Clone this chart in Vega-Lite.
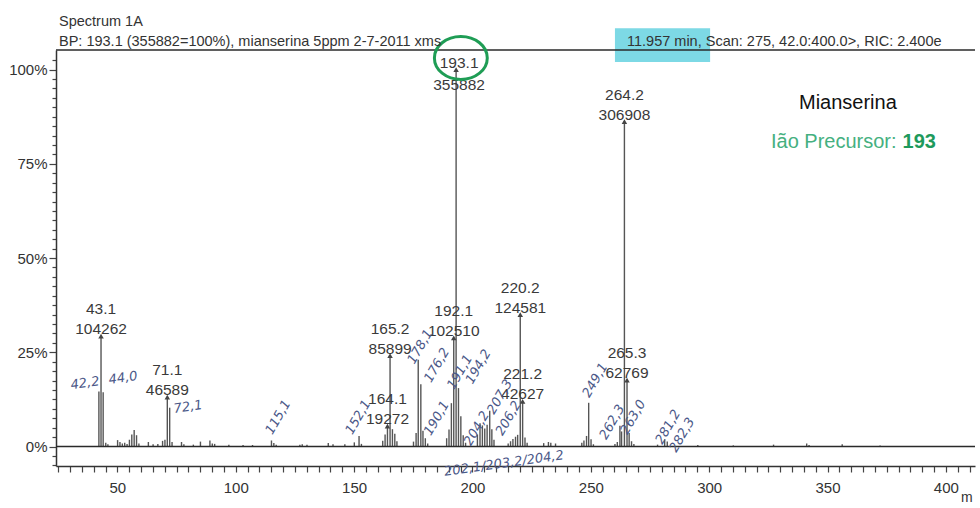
{
  "$schema": "https://vega.github.io/schema/vega-lite/v6.json",
  "width": 919,
  "height": 416,
  "autosize": {"type": "none"},
  "padding": {"left": 56, "top": 50, "right": 5, "bottom": 42},
  "background": "white",
  "config": {"view": {"stroke": null}, "font": "Liberation Sans"},
  "data": {"values": [{}]},
  "datasets": {
    "peaks": [
      {"mz": 42.2, "pct": 14.6}, {"mz": 43.1, "pct": 29.3}, {"mz": 44.0, "pct": 14.4}, {"mz": 45.1, "pct": 1.0}, {"mz": 46.0, "pct": 0.6},
      {"mz": 50.1, "pct": 1.7}, {"mz": 51.1, "pct": 1.2}, {"mz": 52.1, "pct": 0.8}, {"mz": 53.1, "pct": 1.0}, {"mz": 54.1, "pct": 0.7},
      {"mz": 55.1, "pct": 1.8}, {"mz": 56.1, "pct": 3.2}, {"mz": 57.1, "pct": 4.4}, {"mz": 58.1, "pct": 3.0}, {"mz": 59.1, "pct": 0.8},
      {"mz": 63.1, "pct": 1.2}, {"mz": 65.1, "pct": 0.6}, {"mz": 67.1, "pct": 0.7}, {"mz": 69.1, "pct": 1.5}, {"mz": 70.1, "pct": 1.8},
      {"mz": 71.1, "pct": 13.1}, {"mz": 72.1, "pct": 10.3}, {"mz": 73.1, "pct": 1.2}, {"mz": 77.1, "pct": 1.2}, {"mz": 78.1, "pct": 0.6},
      {"mz": 82.1, "pct": 0.5}, {"mz": 85.1, "pct": 1.3}, {"mz": 89.1, "pct": 1.6}, {"mz": 90.1, "pct": 0.8}, {"mz": 91.1, "pct": 0.7},
      {"mz": 97.1, "pct": 0.5}, {"mz": 103.1, "pct": 0.4}, {"mz": 107.1, "pct": 0.4}, {"mz": 115.1, "pct": 1.6}, {"mz": 116.1, "pct": 0.9},
      {"mz": 117.1, "pct": 0.5}, {"mz": 127.1, "pct": 0.5}, {"mz": 128.1, "pct": 0.6}, {"mz": 130.1, "pct": 0.5}, {"mz": 139.1, "pct": 0.9},
      {"mz": 141.1, "pct": 0.6}, {"mz": 146.1, "pct": 0.6}, {"mz": 150.1, "pct": 1.1}, {"mz": 152.1, "pct": 2.8}, {"mz": 153.1, "pct": 0.7},
      {"mz": 162.1, "pct": 1.5}, {"mz": 163.1, "pct": 3.2}, {"mz": 164.1, "pct": 5.4}, {"mz": 165.2, "pct": 24.1}, {"mz": 166.2, "pct": 4.6},
      {"mz": 167.2, "pct": 3.4}, {"mz": 168.1, "pct": 1.4}, {"mz": 175.1, "pct": 1.3}, {"mz": 176.2, "pct": 3.6}, {"mz": 177.1, "pct": 23.0},
      {"mz": 178.2, "pct": 16.5}, {"mz": 179.1, "pct": 4.2}, {"mz": 180.1, "pct": 2.2}, {"mz": 181.1, "pct": 0.8}, {"mz": 189.1, "pct": 2.2},
      {"mz": 190.1, "pct": 4.5}, {"mz": 191.1, "pct": 11.5}, {"mz": 192.1, "pct": 28.8}, {"mz": 193.1, "pct": 100}, {"mz": 194.1, "pct": 15.5},
      {"mz": 195.1, "pct": 8.0}, {"mz": 196.1, "pct": 3.0}, {"mz": 197.1, "pct": 1.0}, {"mz": 202.1, "pct": 3.2}, {"mz": 203.2, "pct": 6.2},
      {"mz": 204.2, "pct": 5.6}, {"mz": 205.2, "pct": 4.8}, {"mz": 206.2, "pct": 5.8}, {"mz": 207.3, "pct": 9.5}, {"mz": 208.2, "pct": 4.6},
      {"mz": 209.1, "pct": 1.8}, {"mz": 215.1, "pct": 0.8}, {"mz": 216.1, "pct": 1.4}, {"mz": 217.1, "pct": 2.0}, {"mz": 218.2, "pct": 2.6},
      {"mz": 219.1, "pct": 3.1}, {"mz": 220.2, "pct": 35.0}, {"mz": 221.2, "pct": 12.0}, {"mz": 222.2, "pct": 2.4}, {"mz": 223.1, "pct": 1.0},
      {"mz": 230.1, "pct": 0.9}, {"mz": 232.1, "pct": 1.2}, {"mz": 233.1, "pct": 1.0}, {"mz": 235.1, "pct": 0.8}, {"mz": 246.2, "pct": 1.0},
      {"mz": 247.1, "pct": 1.6}, {"mz": 248.2, "pct": 2.8}, {"mz": 249.1, "pct": 11.6}, {"mz": 250.1, "pct": 1.9}, {"mz": 251.1, "pct": 0.6},
      {"mz": 260.2, "pct": 0.7}, {"mz": 261.2, "pct": 1.2}, {"mz": 262.3, "pct": 5.5}, {"mz": 263.0, "pct": 4.0}, {"mz": 264.2, "pct": 86.2},
      {"mz": 265.3, "pct": 17.6}, {"mz": 266.2, "pct": 3.6}, {"mz": 267.2, "pct": 1.4}, {"mz": 268.2, "pct": 0.7}, {"mz": 278.2, "pct": 0.5},
      {"mz": 281.2, "pct": 1.9}, {"mz": 282.3, "pct": 1.3}, {"mz": 295.2, "pct": 0.4}, {"mz": 310.2, "pct": 0.3}, {"mz": 327.2, "pct": 0.5},
      {"mz": 341.2, "pct": 0.8}, {"mz": 342.2, "pct": 0.4}, {"mz": 356.2, "pct": 0.6}, {"mz": 372.2, "pct": 0.3}
    ],
    "labels": [
      {"mz": 43.1, "pct": 29.3, "label": "43.1\n104262"},
      {"mz": 71.1, "pct": 13.1, "label": "71.1\n46589"},
      {"mz": 164.1, "pct": 5.4, "label": "164.1\n19272"},
      {"mz": 165.2, "pct": 24.1, "label": "165.2\n85899"},
      {"mz": 192.1, "pct": 28.8, "label": "192.1\n102510"},
      {"mz": 193.1, "pct": 100, "label": "193.1\n355882"},
      {"mz": 220.2, "pct": 35.0, "label": "220.2\n124581"},
      {"mz": 221.2, "pct": 12.0, "label": "221.2\n42627"},
      {"mz": 264.2, "pct": 86.2, "label": "264.2\n306908"},
      {"mz": 265.3, "pct": 17.6, "label": "265.3\n62769"}
    ],
    "notes": [
      {"note": "42,2", "mz": 36.3, "pct": 16.8, "flat": true},
      {"note": "44,0", "mz": 52.4, "pct": 18.2, "flat": true},
      {"note": "72,1", "mz": 79.9, "pct": 10.5, "flat": true},
      {"note": "202,1/203,2/204,2", "mz": 213.3, "pct": -4.5, "flat": true},
      {"note": "115,1", "mz": 117.9, "pct": 7.8, "flat": false},
      {"note": "152,1", "mz": 151.7, "pct": 7.8, "flat": false},
      {"note": "176,2", "mz": 185.0, "pct": 21.6, "flat": false},
      {"note": "178,1", "mz": 177.9, "pct": 26.5, "flat": false},
      {"note": "190,1", "mz": 184.9, "pct": 7.5, "flat": false},
      {"note": "191,1", "mz": 194.7, "pct": 19.8, "flat": false},
      {"note": "194,2", "mz": 202.5, "pct": 21.2, "flat": false},
      {"note": "204,2", "mz": 201.8, "pct": 4.8, "flat": false},
      {"note": "207,3", "mz": 211.6, "pct": 13.2, "flat": false},
      {"note": "206,2", "mz": 215.2, "pct": 7.5, "flat": false},
      {"note": "249,1", "mz": 251.8, "pct": 17.6, "flat": false},
      {"note": "262,3", "mz": 259.0, "pct": 6.5, "flat": false},
      {"note": "263,0", "mz": 267.9, "pct": 7.8, "flat": false},
      {"note": "281,2", "mz": 282.6, "pct": 5.2, "flat": false},
      {"note": "282,3", "mz": 288.6, "pct": 3.1, "flat": false}
    ]
  },
  "resolve": {"axis": {"x": "independent", "y": "independent"}},
  "layer": [
    {
      "data": {"name": "peaks"},
      "mark": {"type": "rule", "color": "#555555", "strokeWidth": 1.4},
      "encoding": {
        "x": {
          "field": "mz", "type": "quantitative",
          "scale": {"domain": [24.08, 412.3], "nice": false, "zero": false},
          "axis": {
            "orient": "bottom", "title": null, "grid": false,
            "values": [25,30,35,40,45,50,55,60,65,70,75,80,85,90,95,100,105,110,115,120,125,130,135,140,145,150,155,160,165,170,175,180,185,190,195,200,205,210,215,220,225,230,235,240,245,250,255,260,265,270,275,280,285,290,295,300,305,310,315,320,325,330,335,340,345,350,355,360,365,370,375,380,385,390,395,400,405,410],
            "labelExpr": "datum.value % 50 === 0 ? '' + datum.value : ''",
            "labelOverlap": false, "labelFlush": false, "labelBound": false,
            "tickSize": 6, "tickWidth": 1.2, "tickColor": "#444444",
            "domainColor": "#333333", "domainWidth": 1.5,
            "labelFont": "Liberation Sans", "labelFontSize": 15, "labelColor": "#333333", "labelPadding": 8
          }
        },
        "y": {
          "field": "pct", "type": "quantitative",
          "scale": {"domain": [-5.17, 105.2], "nice": false, "zero": false},
          "axis": {
            "orient": "left", "title": null, "grid": false,
            "values": [-5,-2.5,0,2.5,5,7.5,10,12.5,15,17.5,20,22.5,25,27.5,30,32.5,35,37.5,40,42.5,45,47.5,50,52.5,55,57.5,60,62.5,65,67.5,70,72.5,75,77.5,80,82.5,85,87.5,90,92.5,95,97.5,100,102.5],
            "labelExpr": "(datum.value % 25 === 0 && datum.value >= 0) ? datum.value + '%' : ''",
            "labelOverlap": false, "labelFlush": false, "labelBound": false,
            "tickSize": {"condition": {"test": "datum.value % 25 === 0", "value": 7}, "value": 4},
            "tickWidth": 1.2, "tickColor": "#444444",
            "domainColor": "#333333", "domainWidth": 1.5,
            "labelFont": "Liberation Sans", "labelFontSize": 15, "labelColor": "#333333", "labelPadding": 2
          }
        },
        "y2": {"datum": 0}
      }
    },
    {
      "mark": {"type": "rect", "color": "#7dd9e5"},
      "encoding": {
        "x": {"datum": 260.2, "type": "quantitative", "axis": null},
        "x2": {"datum": 300.4},
        "y": {"datum": 111.0, "type": "quantitative", "axis": null},
        "y2": {"datum": 102.0}
      }
    },
    {
      "mark": {"type": "rule", "color": "#2a2a2a", "strokeWidth": 1.6},
      "encoding": {
        "y": {"datum": 0, "type": "quantitative", "axis": null}
      }
    },
    {
      "mark": {"type": "rule", "color": "#2a2a2a", "strokeWidth": 1.6},
      "encoding": {
        "y": {"datum": 105.2, "type": "quantitative", "axis": null}
      }
    },
    {
      "data": {"name": "labels"},
      "mark": {"type": "point", "shape": "triangle-up", "size": 30, "filled": true, "color": "#444444", "opacity": 1},
      "encoding": {
        "x": {"field": "mz", "type": "quantitative", "axis": null},
        "y": {"field": "pct", "type": "quantitative", "axis": null}
      }
    },
    {
      "data": {"name": "labels"},
      "transform": [{"filter": "datum.mz !== 193.1"}],
      "mark": {"type": "text", "align": "center", "baseline": "bottom", "dy": -19, "fontSize": 15.5, "lineBreak": "\n", "lineHeight": 20, "color": "#3a3a3a", "font": "Liberation Sans"},
      "encoding": {
        "x": {"field": "mz", "type": "quantitative", "axis": null},
        "y": {"field": "pct", "type": "quantitative", "axis": null},
        "text": {"field": "label", "type": "nominal"}
      }
    },
    {
      "data": {"name": "labels"},
      "transform": [{"filter": "datum.mz === 193.1"}],
      "mark": {"type": "text", "align": "center", "baseline": "bottom", "dy": 1.5, "dx": 3, "fontSize": 15.5, "lineBreak": "\n", "lineHeight": 22, "color": "#3a3a3a", "font": "Liberation Sans"},
      "encoding": {
        "x": {"field": "mz", "type": "quantitative", "axis": null},
        "y": {"field": "pct", "type": "quantitative", "axis": null},
        "text": {"field": "label", "type": "nominal"}
      }
    },
    {
      "data": {"name": "notes"},
      "transform": [{"filter": "datum.flat"}],
      "mark": {"type": "text", "align": "center", "baseline": "middle", "angle": -8, "fontSize": 13, "fontStyle": "italic", "font": "DejaVu Sans", "color": "#4b5888"},
      "encoding": {
        "x": {"field": "mz", "type": "quantitative", "axis": null},
        "y": {"field": "pct", "type": "quantitative", "axis": null},
        "text": {"field": "note", "type": "nominal"}
      }
    },
    {
      "data": {"name": "notes"},
      "transform": [{"filter": "!datum.flat"}],
      "mark": {"type": "text", "align": "center", "baseline": "middle", "angle": -60, "fontSize": 13, "fontStyle": "italic", "font": "DejaVu Sans", "color": "#4b5888"},
      "encoding": {
        "x": {"field": "mz", "type": "quantitative", "axis": null},
        "y": {"field": "pct", "type": "quantitative", "axis": null},
        "text": {"field": "note", "type": "nominal"}
      }
    },
    {
      "mark": {"type": "point", "shape": "M-1.23,0C-1.23,-0.5523,-0.679,-1,0,-1C0.679,-1,1.23,-0.5523,1.23,0C1.23,0.5523,0.679,1,0,1C-0.679,1,-1.23,0.5523,-1.23,0Z", "size": 1849, "filled": false, "color": "#1f9d55", "strokeWidth": 3, "opacity": 1},
      "encoding": {
        "x": {"datum": 195.1, "type": "quantitative", "axis": null},
        "y": {"datum": 103.1, "type": "quantitative", "axis": null}
      }
    },
    {
      "mark": {"type": "text", "text": "Spectrum 1A", "align": "left", "baseline": "middle", "fontSize": 14.5, "color": "#333333", "font": "Liberation Sans"},
      "encoding": {
        "x": {"datum": 25.35, "type": "quantitative", "axis": null},
        "y": {"datum": 112.6, "type": "quantitative", "axis": null}
      }
    },
    {
      "mark": {"type": "text", "text": "BP: 193.1 (355882=100%), mianserina 5ppm 2-7-2011 xms", "align": "left", "baseline": "middle", "fontSize": 14.5, "color": "#333333", "font": "Liberation Sans"},
      "encoding": {
        "x": {"datum": 25.35, "type": "quantitative", "axis": null},
        "y": {"datum": 107.3, "type": "quantitative", "axis": null}
      }
    },
    {
      "mark": {"type": "text", "text": "11.957 min, Scan: 275, 42.0:400.0>, RIC: 2.400e", "align": "left", "baseline": "middle", "fontSize": 14.5, "color": "#333333", "font": "Liberation Sans"},
      "encoding": {
        "x": {"datum": 265.3, "type": "quantitative", "axis": null},
        "y": {"datum": 107.3, "type": "quantitative", "axis": null}
      }
    },
    {
      "mark": {"type": "text", "text": "Mianserina", "align": "center", "baseline": "middle", "fontSize": 20, "color": "#111111", "font": "Liberation Sans"},
      "encoding": {
        "x": {"datum": 358.6, "type": "quantitative", "axis": null},
        "y": {"datum": 91.1, "type": "quantitative", "axis": null}
      }
    },
    {
      "mark": {"type": "text", "text": "Ião Precursor:", "align": "left", "baseline": "middle", "fontSize": 20, "color": "#45b080", "font": "Liberation Sans"},
      "encoding": {
        "x": {"datum": 326.1, "type": "quantitative", "axis": null},
        "y": {"datum": 80.8, "type": "quantitative", "axis": null}
      }
    },
    {
      "mark": {"type": "text", "text": "193", "align": "right", "baseline": "middle", "fontSize": 20, "fontWeight": "bold", "color": "#1e9a5c", "font": "Liberation Sans"},
      "encoding": {
        "x": {"datum": 395.8, "type": "quantitative", "axis": null},
        "y": {"datum": 80.8, "type": "quantitative", "axis": null}
      }
    },
    {
      "mark": {"type": "text", "text": "m", "align": "center", "baseline": "middle", "fontSize": 14, "color": "#333333", "font": "Liberation Sans"},
      "encoding": {
        "x": {"datum": 408.9, "type": "quantitative", "axis": null},
        "y": {"datum": -13.7, "type": "quantitative", "axis": null}
      }
    }
  ]
}
